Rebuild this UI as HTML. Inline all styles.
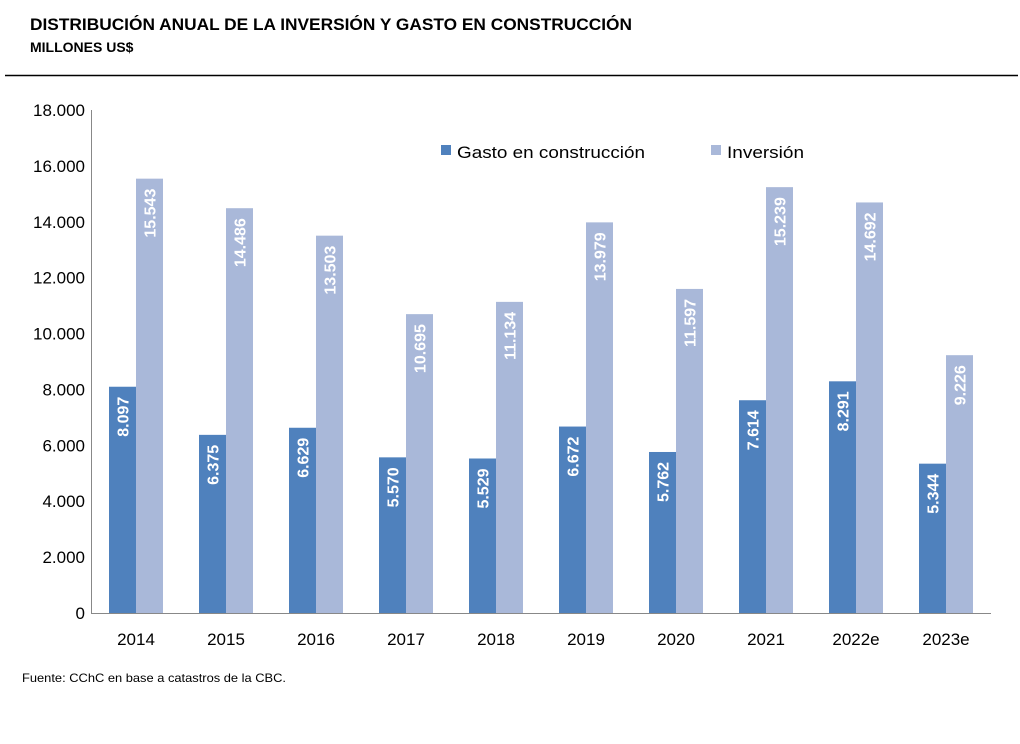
<!DOCTYPE html>
<html><head><meta charset="utf-8"><style>
body{margin:0;background:#fff;width:1020px;height:739px;overflow:hidden;font-family:"Liberation Sans",sans-serif}
</style></head><body>
<svg width="1020" height="739" xmlns="http://www.w3.org/2000/svg" font-family="Liberation Sans, sans-serif">
<text x="30" y="30" font-size="17" font-weight="bold" fill="#000" textLength="602" lengthAdjust="spacingAndGlyphs">DISTRIBUCIÓN ANUAL DE LA INVERSIÓN Y GASTO EN CONSTRUCCIÓN</text>
<text x="30" y="52" font-size="14" font-weight="bold" fill="#000">MILLONES US$</text>
<line x1="5" y1="75.5" x2="1018" y2="75.5" stroke="#000" stroke-width="1.5"/>
<g id="yticks"></g>
<g id="bars"></g>
<g id="xlabels"></g>
<line x1="91.5" y1="110" x2="91.5" y2="613" stroke="#888"/>
<line x1="91" y1="613.5" x2="991" y2="613.5" stroke="#888"/>
<g>
<rect x="441" y="145" width="10" height="10" fill="#4f81bd"/>
<text x="457" y="158" font-size="17" fill="#000" textLength="188" lengthAdjust="spacingAndGlyphs">Gasto en construcción</text>
<rect x="711" y="145" width="10" height="10" fill="#a9b8d9"/>
<text x="727" y="158" font-size="17" fill="#000" textLength="77" lengthAdjust="spacingAndGlyphs">Inversión</text>
</g>
<text x="22" y="682" font-size="12" fill="#000" textLength="264" lengthAdjust="spacingAndGlyphs">Fuente: CChC en base a catastros de la CBC.</text>
</svg>
<script>
const categories=["2014","2015","2016","2017","2018","2019","2020","2021","2022e","2023e"];
const gasto=[8097,6375,6629,5570,5529,6672,5762,7614,8291,5344];
const inversion=[15543,14486,13503,10695,11134,13979,11597,15239,14692,9226];
const yTicks=[0,2000,4000,6000,8000,10000,12000,14000,16000,18000];
const NS="http://www.w3.org/2000/svg";
const y0=613,yTop=110,yMax=18000,x0=91,step=90,bw=27;
const Y=v=>y0-(v/yMax)*(y0-yTop);
const X=i=>x0+step*i+step/2;
const fmt=v=>v===0?"0":v.toLocaleString("de-DE");
function mk(tag,attrs,parent){const e=document.createElementNS(NS,tag);for(const k in attrs)e.setAttribute(k,attrs[k]);parent.appendChild(e);return e;}
const gy=document.getElementById("yticks"),gb=document.getElementById("bars"),gx=document.getElementById("xlabels");
yTicks.forEach(t=>{
  const tx=mk("text",{x:85,y:Y(t)+6,"text-anchor":"end","font-size":17,fill:"#000"},gy);
  
  
  tx.textContent=fmt(t);
});
categories.forEach((c,i)=>{
  const cx=X(i);
  [[gasto[i],cx-bw,"#4f81bd","bar-gasto"],[inversion[i],cx,"#a9b8d9","bar-inversion"]].forEach(([v,bx,col,nm])=>{
    const r=mk("rect",{x:bx,y:Y(v),width:bw,height:y0-Y(v),fill:col},gb);
    
    
    const lx=bx+bw/2+6,ly=Y(v)+10;
    const t=mk("text",{x:lx,y:ly,transform:`rotate(-90 ${lx} ${ly})`,"text-anchor":"end","font-size":16,"font-weight":"bold",fill:"#fff"},gb);
    
    
    t.textContent=fmt(v);
  });
  const l=mk("text",{x:cx,y:645,"text-anchor":"middle","font-size":17,fill:"#000"},gx);
  
  
  l.textContent=c;
});
</script>
</body></html>
